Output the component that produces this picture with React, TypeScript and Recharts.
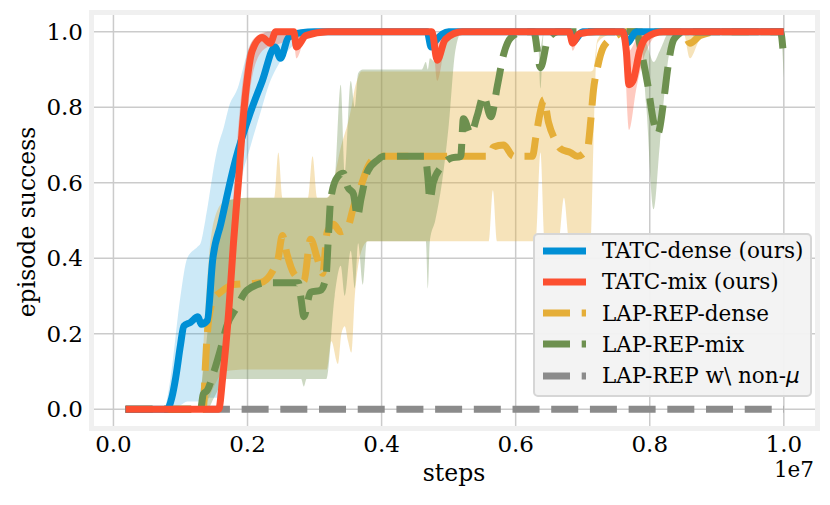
import React from "react";
import { Area, CartesianGrid, ComposedChart, Label, Line, XAxis, YAxis } from "recharts";

/* Episode success vs. training steps (x in units of 1e7). */

const BLUE = "#008fd5";
const RED = "#fc4f30";
const GOLD = "#e5ae38";
const GREEN = "#6d904f";
const GRAY = "#8b8b8b";
const FONT = "'DejaVu Serif', serif";

const X_TICKS = [0, 0.2, 0.4, 0.6, 0.8, 1.0];
const Y_TICKS = [0, 0.2, 0.4, 0.6, 0.8, 1.0];

// TATC-dense (ours)
const denseX = [0.018, 0.08, 0.087, 0.093, 0.1, 0.105, 0.115, 0.126, 0.131, 0.14, 0.148, 0.16, 0.182, 0.204, 0.222, 0.241, 0.249, 0.261, 0.28, 0.3, 0.468, 0.474, 0.48, 0.5, 0.68, 0.686, 0.7, 0.76, 0.766, 0.78, 1.0];
const denseY = [0, 0, 0.03, 0.085, 0.17, 0.22, 0.23, 0.245, 0.225, 0.235, 0.395, 0.49, 0.66, 0.785, 0.87, 0.96, 0.93, 0.985, 0.998, 1, 1, 0.96, 0.975, 1, 1, 0.975, 1, 1, 0.97, 1, 1];
const denseBandX = [0.018, 0.075, 0.085, 0.1, 0.11, 0.125, 0.13, 0.137, 0.155, 0.165, 0.172, 0.187, 0.19, 0.205, 0.22, 0.23, 0.25, 0.28, 0.3, 1.0];
const denseLo = [0, 0, 0, 0.01, 0.02, 0.02, 0.02, 0.03, 0.03, 0.05, 0.26, 0.57, 0.6, 0.7, 0.79, 0.85, 0.925, 0.98, 1, 1];
const denseHi = [0, 0, 0.08, 0.3, 0.4, 0.43, 0.44, 0.5, 0.69, 0.75, 0.8, 0.86, 0.88, 0.97, 0.99, 1, 1, 1, 1, 1];

// TATC-mix (ours)
const mixX = [0.018, 0.157, 0.163, 0.172, 0.179, 0.187, 0.193, 0.2, 0.207, 0.222, 0.234, 0.242, 0.269, 0.273, 0.287, 0.32, 0.475, 0.483, 0.495, 0.52, 0.68, 0.685, 0.695, 0.72, 0.76, 0.765, 0.769, 0.775, 0.785, 0.795, 0.82, 1.0];
const mixY = [0, 0, 0.085, 0.26, 0.44, 0.615, 0.76, 0.88, 0.95, 0.985, 0.97, 1, 1, 0.96, 0.99, 1, 1, 0.925, 0.98, 1, 1, 0.97, 0.995, 1, 1, 0.95, 0.86, 0.87, 0.95, 0.985, 1, 1];
const mixBandX = [0.018, 0.155, 0.165, 0.175, 0.185, 0.195, 0.205, 0.215, 0.23, 0.25, 0.268, 0.273, 0.285, 0.3, 0.475, 0.483, 0.495, 0.52, 0.68, 0.685, 0.695, 0.76, 0.769, 0.78, 0.795, 0.82, 1.0];
const mixLo = [0, 0, 0.05, 0.3, 0.5, 0.7, 0.86, 0.93, 0.96, 0.97, 0.99, 0.93, 0.98, 1, 1, 0.87, 0.96, 1, 1, 0.95, 0.99, 1, 0.74, 0.85, 0.95, 1, 1];
const mixHi = [0, 0, 0.15, 0.45, 0.72, 0.9, 0.97, 0.99, 1, 1, 1, 1, 1, 1, 1, 0.98, 1, 1, 1, 0.99, 1, 1, 0.95, 0.98, 1, 1, 1];

// LAP-REP-dense
const lapDenseX = [0.018, 0.134, 0.137, 0.14, 0.149, 0.16, 0.179, 0.219, 0.245, 0.252, 0.259, 0.269, 0.284, 0.294, 0.304, 0.312, 0.319, 0.328, 0.339, 0.349, 0.358, 0.369, 0.379, 0.394, 0.56, 0.567, 0.582, 0.597, 0.625, 0.63, 0.637, 0.642, 0.649, 0.66, 0.667, 0.682, 0.692, 0.707, 0.712, 0.716, 0.722, 0.731, 0.746, 0.765, 0.85, 0.86, 0.875, 0.9, 1.0];
const lapDenseY = [0, 0, 0.11, 0.2, 0.29, 0.31, 0.33, 0.335, 0.395, 0.46, 0.41, 0.36, 0.34, 0.45, 0.4, 0.36, 0.47, 0.49, 0.47, 0.48, 0.535, 0.59, 0.64, 0.67, 0.67, 0.695, 0.7, 0.67, 0.67, 0.72, 0.79, 0.82, 0.76, 0.71, 0.69, 0.68, 0.67, 0.69, 0.765, 0.845, 0.905, 0.96, 0.985, 1, 1, 0.97, 0.99, 1, 1];
const lapDenseBandX = [0.018, 0.13, 0.135, 0.14, 0.15, 0.165, 0.2, 0.24, 0.246, 0.252, 0.29, 0.297, 0.304, 0.318, 0.325, 0.335, 0.34, 0.345, 0.35, 0.355, 0.36, 0.365, 0.37, 0.38, 0.56, 0.566, 0.572, 0.63, 0.637, 0.643, 0.664, 0.672, 0.68, 0.712, 0.716, 0.722, 0.735, 0.76, 0.85, 0.86, 0.875, 0.9, 1.0];
const lapDenseLo = [0, 0, 0, 0.02, 0.06, 0.1, 0.105, 0.105, 0.105, 0.105, 0.105, 0.105, 0.105, 0.105, 0.18, 0.12, 0.2, 0.22, 0.18, 0.15, 0.3, 0.38, 0.42, 0.445, 0.445, 0.58, 0.445, 0.445, 0.68, 0.445, 0.445, 0.56, 0.445, 0.445, 0.7, 0.97, 0.99, 1, 1, 0.93, 0.98, 1, 1];
const lapDenseHi = [0, 0, 0.2, 0.35, 0.5, 0.55, 0.56, 0.56, 0.68, 0.56, 0.56, 0.67, 0.56, 0.56, 0.58, 0.66, 0.7, 0.73, 0.76, 0.8, 0.85, 0.88, 0.895, 0.895, 0.895, 0.895, 0.895, 0.895, 0.895, 0.895, 0.895, 0.895, 0.895, 0.895, 0.9, 0.98, 1, 1, 1, 0.99, 1, 1, 1];

// LAP-REP-mix
const lapMixX = [0.018, 0.13, 0.134, 0.14, 0.15, 0.16, 0.169, 0.184, 0.199, 0.23, 0.276, 0.28, 0.284, 0.294, 0.309, 0.317, 0.321, 0.324, 0.334, 0.343, 0.349, 0.358, 0.364, 0.369, 0.379, 0.394, 0.403, 0.465, 0.469, 0.472, 0.477, 0.488, 0.503, 0.518, 0.522, 0.533, 0.543, 0.552, 0.563, 0.573, 0.582, 0.593, 0.612, 0.627, 0.637, 0.648, 0.663, 0.78, 0.787, 0.797, 0.806, 0.812, 0.821, 0.827, 0.836, 0.851, 0.995, 1.0];
const lapMixY = [0, 0, 0.04, 0.05, 0.1, 0.16, 0.22, 0.27, 0.315, 0.335, 0.335, 0.29, 0.245, 0.31, 0.315, 0.35, 0.47, 0.555, 0.615, 0.625, 0.59, 0.57, 0.51, 0.555, 0.63, 0.66, 0.67, 0.67, 0.615, 0.555, 0.6, 0.64, 0.665, 0.67, 0.77, 0.73, 0.78, 0.83, 0.775, 0.86, 0.94, 0.985, 1, 1, 0.905, 0.98, 1, 1, 0.95, 0.86, 0.76, 0.73, 0.82, 0.905, 0.98, 1, 1, 0.925];
const lapMixBandX = [0.018, 0.125, 0.13, 0.14, 0.15, 0.167, 0.2, 0.28, 0.284, 0.288, 0.318, 0.33, 0.339, 0.345, 0.354, 0.36, 0.365, 0.372, 0.378, 0.385, 0.46, 0.466, 0.469, 0.472, 0.48, 0.49, 0.5, 0.51, 0.52, 0.633, 0.637, 0.642, 0.785, 0.795, 0.806, 0.815, 0.83, 0.845, 0.995, 1.0];
const lapMixLo = [0, 0, 0, 0, 0.03, 0.08, 0.08, 0.08, 0.06, 0.08, 0.08, 0.3, 0.38, 0.3, 0.42, 0.32, 0.44, 0.33, 0.445, 0.445, 0.445, 0.445, 0.32, 0.445, 0.5, 0.6, 0.75, 0.95, 1, 1, 0.85, 1, 1, 0.8, 0.53, 0.7, 0.95, 1, 1, 0.88];
const lapMixHi = [0, 0, 0.05, 0.2, 0.4, 0.55, 0.56, 0.56, 0.56, 0.56, 0.56, 0.6, 0.86, 0.62, 0.87, 0.8, 0.89, 0.9, 0.9, 0.9, 0.9, 0.92, 0.9, 0.93, 0.92, 0.95, 0.99, 1, 1, 1, 0.96, 1, 1, 0.97, 0.92, 0.95, 1, 1, 1, 0.97];

// LAP-REP w\ non-mu
const nonMuX = [0.018, 1.0];
const nonMuY = [0, 0];

const pts = (xs: number[], ys: number[]) => xs.map((x, i) => ({ x, y: ys[i] }));
const band = (xs: number[], lo: number[], hi: number[]) =>
  xs.map((x, i) => ({ x, r: [lo[i], hi[i]] }));

const DASH = "27 11.7";
const LW = 7;

const LEGEND = [
  { label: "TATC-dense (ours)", color: BLUE, dash: undefined },
  { label: "TATC-mix (ours)", color: RED, dash: undefined },
  { label: "LAP-REP-dense", color: GOLD, dash: DASH },
  { label: "LAP-REP-mix", color: GREEN, dash: DASH },
  { label: "LAP-REP w\\ non-", color: GRAY, dash: DASH, mu: true },
];

function ChartLegend() {
  return (
    <div
      style={{
        position: "absolute",
        left: 533,
        top: 233,
        width: 279,
        height: 164,
        boxSizing: "border-box",
        background: "rgba(242,242,242,0.95)",
        border: "2.5px solid #d6d6d6",
        borderRadius: 5,
        fontFamily: FONT,
        fontSize: 21.5,
        color: "#000",
      }}
    >
      {LEGEND.map((l, i) => (
        <div
          key={l.label}
          style={{ position: "absolute", left: 7, top: 1.5 + i * 31.25, height: 28, display: "flex", alignItems: "center", whiteSpace: "nowrap" }}
        >
          <svg width={45} height={10} style={{ marginRight: 15 }}>
            <line x1={1} y1={5} x2={44} y2={5} stroke={l.color} strokeWidth={LW} strokeDasharray={l.dash} />
          </svg>
          <span>
            {l.label}
            {l.mu && <span style={{ fontFamily: "'DejaVu Sans', sans-serif", fontStyle: "italic" }}>μ</span>}
          </span>
        </div>
      ))}
    </div>
  );
}

export default function App() {
  return (
    <div style={{ position: "absolute", left: 0, top: 0, width: 830, height: 505, background: "#fff" }}>
      <ComposedChart width={830} height={505} margin={{ top: 13, right: 13, bottom: 0, left: 0 }}>
        <CartesianGrid
          fill="#ffffff"
          stroke="#cbcbcb"
          strokeWidth={1.5}
          horizontalValues={Y_TICKS}
          verticalValues={X_TICKS}
        />
        <XAxis
          type="number"
          dataKey="x"
          domain={[-0.032, 1.0495]}
          allowDataOverflow
          ticks={X_TICKS}
          tickFormatter={(v: number) => v.toFixed(1)}
          axisLine={false}
          tickLine={false}
          tickSize={0}
          tickMargin={8}
          height={77}
          tick={{ fill: "#000", fontSize: 23, fontFamily: FONT }}
        >
          <Label
            content={() => (
              <g fontFamily={FONT} fill="#000">
                <text x={454} y={481} fontSize={23.5} textAnchor="middle">steps</text>
                <text x={814} y={477} fontSize={21.5} textAnchor="end">1e7</text>
              </g>
            )}
          />
        </XAxis>
        <YAxis
          type="number"
          domain={[-0.05, 1.05]}
          allowDataOverflow
          ticks={Y_TICKS}
          tickFormatter={(v: number) => v.toFixed(1)}
          axisLine={false}
          tickLine={false}
          tickSize={0}
          tickMargin={9}
          width={92}
          tick={{ fill: "#000", fontSize: 23, fontFamily: FONT }}
        >
          <Label
            content={() => (
              <text
                x={35}
                y={222}
                fontSize={23.5}
                fontFamily={FONT}
                fill="#000"
                textAnchor="middle"
                transform="rotate(-90 35 222)"
              >
                episode success
              </text>
            )}
          />
        </YAxis>

        <Area data={band(denseBandX, denseLo, denseHi)} dataKey="r" type="monotone" stroke="none" fill={BLUE} fillOpacity={0.2} isAnimationActive={false} activeDot={false} />
        <Area data={band(mixBandX, mixLo, mixHi)} dataKey="r" type="monotone" stroke="none" fill={RED} fillOpacity={0.3} isAnimationActive={false} activeDot={false} />
        <Area data={band(lapDenseBandX, lapDenseLo, lapDenseHi)} dataKey="r" type="monotone" stroke="none" fill={GOLD} fillOpacity={0.35} isAnimationActive={false} activeDot={false} />
        <Area data={band(lapMixBandX, lapMixLo, lapMixHi)} dataKey="r" type="monotone" stroke="none" fill={GREEN} fillOpacity={0.35} isAnimationActive={false} activeDot={false} />

        <Line data={pts(nonMuX, nonMuY)} dataKey="y" type="linear" stroke={GRAY} strokeWidth={LW} strokeDasharray={DASH} dot={false} activeDot={false} isAnimationActive={false} />
        <Line data={pts(lapDenseX, lapDenseY)} dataKey="y" type="monotone" stroke={GOLD} strokeWidth={LW} strokeDasharray={DASH} dot={false} activeDot={false} isAnimationActive={false} />
        <Line data={pts(lapMixX, lapMixY)} dataKey="y" type="monotone" stroke={GREEN} strokeWidth={LW} strokeDasharray={DASH} dot={false} activeDot={false} isAnimationActive={false} />
        <Line data={pts(denseX, denseY)} dataKey="y" type="monotone" stroke={BLUE} strokeWidth={LW} dot={false} activeDot={false} isAnimationActive={false} />
        <Line data={pts(mixX, mixY)} dataKey="y" type="monotone" stroke={RED} strokeWidth={LW} dot={false} activeDot={false} isAnimationActive={false} />
      </ComposedChart>
      {/* light frame around the plot area, drawn over the data like matplotlib spines */}
      <div
        style={{
          position: "absolute",
          left: 89.25,
          top: 10.25,
          width: 730.5,
          height: 420.5,
          boxSizing: "border-box",
          border: "5.5px solid #f0f0f0",
          pointerEvents: "none",
        }}
      />
      <ChartLegend />
    </div>
  );
}
